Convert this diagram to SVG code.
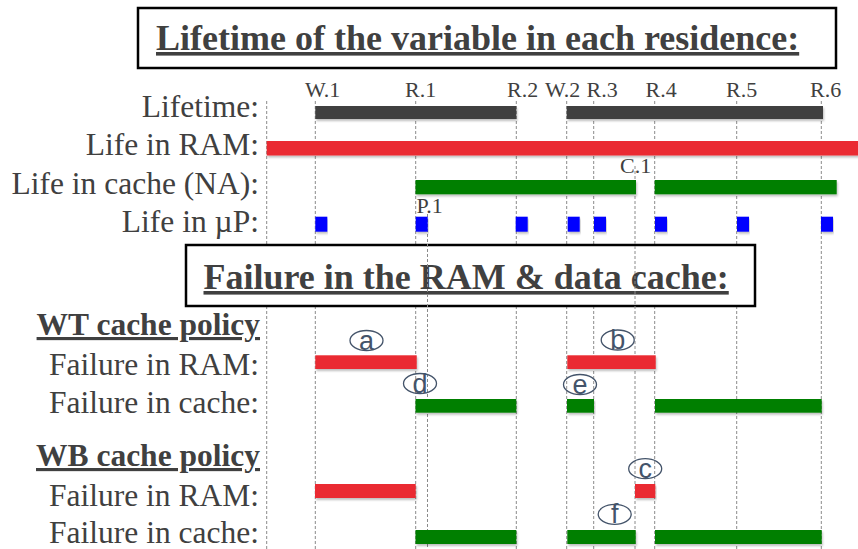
<svg xmlns="http://www.w3.org/2000/svg" width="858" height="549" viewBox="0 0 858 549">
<defs>
<filter id="sh" x="-5%" y="-30%" width="110%" height="180%">
<feDropShadow dx="1" dy="2" stdDeviation="1.2" flood-color="#000" flood-opacity="0.25"/>
</filter>
</defs>
<style>
.lbl{font-family:"Liberation Serif","Times New Roman",serif;font-size:31.5px;fill:#404040;text-anchor:end}
.hd{font-family:"Liberation Serif","Times New Roman",serif;font-size:31.5px;font-weight:bold;fill:#404040;text-anchor:end;text-decoration:underline}
.ttl{font-family:"Liberation Serif","Times New Roman",serif;font-size:36px;font-weight:bold;fill:#404040;text-decoration:underline}
.ev{font-family:"Liberation Serif","Times New Roman",serif;font-size:22px;fill:#404040}
.box{fill:#fff;stroke:#000;stroke-width:2.5}
.guide{stroke:#8a8a8a;stroke-width:1;stroke-dasharray:3 2;fill:none}
.dk{fill:#404040;filter:url(#sh)}
.rd{fill:#EA2B31;filter:url(#sh)}
.gn{fill:#007F00;filter:url(#sh)}
.bl{fill:#0000FF;filter:url(#sh)}
.circ{fill:#fff;fill-opacity:0;stroke:#44546A;stroke-width:1.3}
.ct{font-family:"Liberation Sans","Open Sans",sans-serif;font-size:27px;fill:#44546A;text-anchor:middle}
</style>
<rect width="858" height="549" fill="#fff"/>

<g id="guides">
<line class="guide" x1="266.7" y1="101" x2="266.7" y2="549"/>
<line class="guide" x1="315.3" y1="101" x2="315.3" y2="549"/>
<line class="guide" x1="415.7" y1="101" x2="415.7" y2="549"/>
<line class="guide" x1="516.3" y1="101" x2="516.3" y2="549"/>
<line class="guide" x1="566.7" y1="101" x2="566.7" y2="549"/>
<line class="guide" x1="593.7" y1="101" x2="593.7" y2="549"/>
<line class="guide" x1="654.7" y1="101" x2="654.7" y2="549"/>
<line class="guide" x1="736.7" y1="101" x2="736.7" y2="549"/>
<line class="guide" x1="821.3" y1="101" x2="821.3" y2="549"/>
</g>

<g id="title1">
<rect class="box" x="138" y="8" width="698" height="60"/>
<text class="ttl" x="156" y="50">Lifetime of the variable in each residence:</text>
</g>

<g id="title2">
<rect class="box" x="186" y="245" width="569" height="61"/>
<text class="ttl" x="203.5" y="289">Failure in the RAM &amp; data cache:</text>
</g>

<g id="guides-front">
<line class="guide" x1="427.5" y1="214" x2="427.5" y2="549"/>
<line class="guide" x1="635" y1="166" x2="635" y2="549"/>
</g>

<g id="event-labels">
<text class="ev" x="305" y="96.5">W.1</text>
<text class="ev" x="405" y="96.5">R.1</text>
<text class="ev" x="507" y="96.5">R.2</text>
<text class="ev" x="545" y="96.5">W.2</text>
<text class="ev" x="586.5" y="96.5">R.3</text>
<text class="ev" x="645.5" y="96.5">R.4</text>
<text class="ev" x="726" y="96.5">R.5</text>
<text class="ev" x="810" y="96.5">R.6</text>
<text class="ev" x="620" y="173">C.1</text>
<text class="ev" x="416.5" y="212.5">P.1</text>
</g>

<g id="row-lifetime">
<text class="lbl" x="259" y="117">Lifetime:</text>
<rect class="dk" x="315.3" y="106" width="201" height="13"/>
<rect class="dk" x="566.7" y="106" width="256.3" height="13"/>
</g>

<g id="row-ram">
<text class="lbl" x="259" y="155">Life in RAM:</text>
<rect class="rd" x="266.7" y="141" width="592" height="14.5"/>
</g>

<g id="row-cache">
<text class="lbl" x="259" y="194">Life in cache (NA):</text>
<rect class="gn" x="415.5" y="180" width="220.5" height="14.3"/>
<rect class="gn" x="654.7" y="180" width="182" height="14.3"/>
</g>

<g id="row-up">
<text class="lbl" x="259" y="232">Life in µP:</text>
<rect class="bl" x="315.3" y="216.7" width="12" height="15"/>
<rect class="bl" x="415.7" y="216.7" width="12" height="15"/>
<rect class="bl" x="515.7" y="216.7" width="12" height="15"/>
<rect class="bl" x="567.7" y="216.7" width="12" height="15"/>
<rect class="bl" x="594" y="216.7" width="12" height="15"/>
<rect class="bl" x="655" y="216.7" width="12" height="15"/>
<rect class="bl" x="737" y="216.7" width="12" height="15"/>
<rect class="bl" x="821" y="216.7" width="12" height="15"/>
</g>

<g id="wt-head">
<text class="hd" x="260" y="335">WT cache policy</text>
</g>

<g id="wt-ram">
<text class="lbl" x="259" y="375">Failure in RAM:</text>
<rect class="rd" x="315.3" y="355.3" width="101.4" height="13.7"/>
<rect class="rd" x="567.3" y="355.3" width="88.4" height="13.7"/>
</g>

<g id="wt-cache">
<text class="lbl" x="259" y="413">Failure in cache:</text>
<rect class="gn" x="415.5" y="399" width="100.8" height="13.7"/>
<rect class="gn" x="567" y="399" width="27" height="13.7"/>
<rect class="gn" x="655" y="399" width="166.7" height="13.7"/>
</g>

<g id="wb-head">
<text class="hd" x="260" y="466">WB cache policy</text>
</g>

<g id="wb-ram">
<text class="lbl" x="259" y="506">Failure in RAM:</text>
<rect class="rd" x="315" y="484" width="100.7" height="14"/>
<rect class="rd" x="635" y="484" width="20.3" height="14"/>
</g>

<g id="wb-cache">
<text class="lbl" x="259" y="543">Failure in cache:</text>
<rect class="gn" x="415.5" y="530" width="100.8" height="14"/>
<rect class="gn" x="567.3" y="530" width="68.4" height="14"/>
<rect class="gn" x="655" y="530" width="166.7" height="14"/>
</g>

<g id="mark-a"><ellipse class="circ" cx="366.5" cy="340.5" rx="16.5" ry="10"/><text class="ct" x="366.5" y="349.5">a</text></g>
<g id="mark-b"><ellipse class="circ" cx="617.7" cy="340" rx="16.5" ry="10"/><text class="ct" x="617.7" y="349">b</text></g>
<g id="mark-d"><ellipse class="circ" cx="420" cy="383.5" rx="16.5" ry="10"/><text class="ct" x="420" y="392.5">d</text></g>
<g id="mark-e"><ellipse class="circ" cx="580" cy="384.5" rx="16.5" ry="10"/><text class="ct" x="580" y="393.5">e</text></g>
<g id="mark-c"><ellipse class="circ" cx="645.2" cy="468.7" rx="16.5" ry="10"/><text class="ct" x="645.2" y="477.7">c</text></g>
<g id="mark-f"><ellipse class="circ" cx="614.7" cy="514.3" rx="16.5" ry="10"/><text class="ct" x="614.7" y="523.3">f</text></g>
</svg>
